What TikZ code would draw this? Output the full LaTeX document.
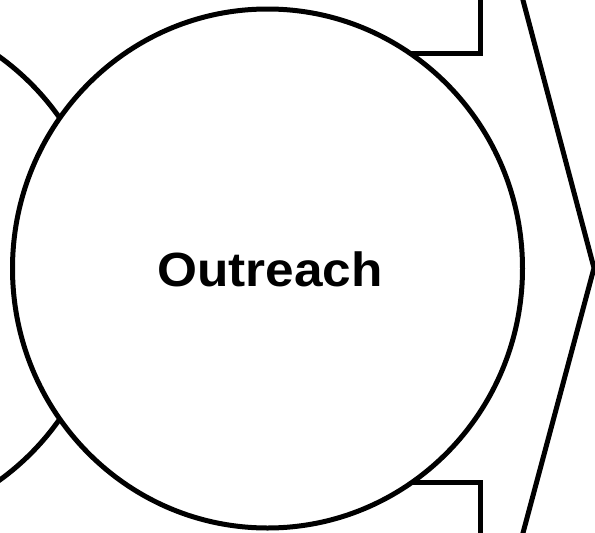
\documentclass[tikz,border=0pt]{standalone}
\usepackage{fontspec}
\setmainfont{Liberation Sans}
\usetikzlibrary{shapes.geometric}
\begin{document}
\begin{tikzpicture}[x=1pt,y=-1pt,
  outline/.style={line width=5pt, draw=black},
  disc/.style={ellipse, outline, fill=white, inner sep=0pt, minimum width=510pt, minimum height=519pt},
  label/.style={font=\bfseries\fontsize{48}{48}\selectfont, xscale=1.07, inner sep=0pt}]
\useasboundingbox (0,0) rectangle (595,533);
\clip (0,0) rectangle (595,533);
% previous circle (partially visible at left)
\node[disc] (prev) at (-148,268.5) {};
% brackets
\coordinate (tb1) at (380,53);
\coordinate (tb2) at (480,53);
\coordinate (tb3) at (480,-10);
\draw[outline, line join=miter] (tb1) -- (tb2) -- (tb3);
\coordinate (bb1) at (380,482);
\coordinate (bb2) at (480,482);
\coordinate (bb3) at (480,543);
\draw[outline, line join=miter] (bb1) -- (bb2) -- (bb3);
% chevron
\coordinate (ch1) at (520.3,-10);
\coordinate (ch2) at (594,268);
\coordinate (ch3) at (520.3,543);
\draw[outline, line join=miter] (ch1) -- (ch2) -- (ch3);
% main circle
\node[disc] (main) at (267.5,268.5) {};
\node[label] (txt) at (270,269) {Outreach};
\end{tikzpicture}
\end{document}
